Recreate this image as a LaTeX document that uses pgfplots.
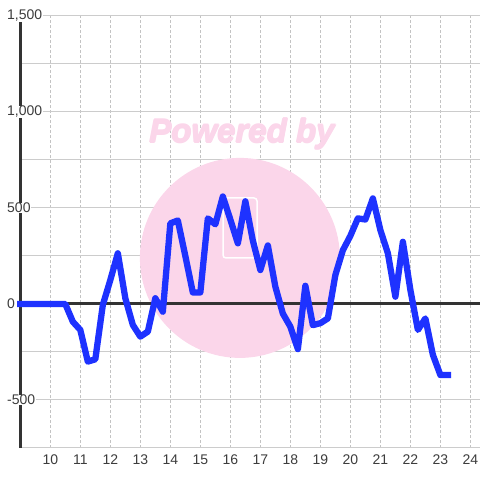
\documentclass[border=0pt]{standalone}
\usepackage{pgfplots}
\pgfplotsset{compat=1.18}
\usepackage{fontspec}
\setmainfont{Liberation Sans}
\definecolor{linecol}{RGB}{30,50,255}
\definecolor{gridc}{RGB}{204,204,204}
\definecolor{vgridc}{RGB}{195,195,195}
\definecolor{axc}{RGB}{51,51,51}
\definecolor{txtc}{RGB}{60,60,60}
\definecolor{wm}{RGB}{251,214,234}
\begin{document}
\begin{tikzpicture}
% watermark (behind the axis)
\fill[wm] (219.6pt,190.1pt) circle[radius=100pt];
\draw[white, line width=1.5pt, rounded corners=3pt] (202.7pt,190pt) rectangle (236.7pt,250pt);
\foreach \dx/\dy in {-0.7/0,0.7/0,0/-0.7,0/0.7,0/0}{
  \node[text=wm, font=\fontsize{33}{33}\selectfont\bfseries\itshape] at (221.7pt+\dx pt,313.9pt+\dy pt) {Powered by};
}
\begin{axis}[
  set layers,
  scale only axis, width=459.7pt, height=432pt,
  at={(0pt,0pt)}, anchor=south west,
  xmin=9, xmax=24.32, ymin=-750, ymax=1500,
  clip=false,
  axis x line*=bottom, axis y line*=left,
  x axis line style={draw=none},
  y axis line style={line width=3pt, color=axc},
  xtick={10,...,24},
  ytick={-500,0,500,1000,1500},
  minor ytick={-750,-250,250,750,1250},
  yticklabels={},
  major tick length=0pt, minor tick length=0pt,
  xmajorgrids, ymajorgrids, yminorgrids,
  x grid style={vgridc, line width=1pt, dash pattern=on 3pt off 2pt},
  y grid style={gridc, line width=1pt},
  tick label style={font=\fontsize{14}{16}\selectfont, text=txtc},
  /pgf/number format/assume math mode=true,
  xticklabel style={yshift=-3pt},
]
\draw[axc, line width=3pt] (axis cs:9,0) -- (axis cs:24.32,0);
\addplot[linecol, line width=6.3pt, line join=round, line cap=rect, mark=none] table {
x y
9.00 0
9.25 0
9.50 0
9.75 0
10.00 0
10.25 0
10.50 0
10.75 -92
11.00 -135
11.25 -300
11.50 -288
11.75 -5
12.00 125
12.25 264
12.50 30
12.75 -109
13.00 -170
13.25 -144
13.50 30
13.75 -40
14.00 420
14.25 435
14.50 250
14.75 60
15.00 60
15.25 446
15.50 415
15.75 560
16.00 440
16.25 316
16.50 535
16.75 330
17.00 177
17.25 305
17.50 90
17.75 -50
18.00 -118
18.25 -235
18.50 95
18.75 -110
19.00 -100
19.25 -75
19.50 151
19.75 280
20.00 355
20.25 446
20.50 440
20.75 550
21.00 385
21.25 264
21.50 38
21.75 324
22.00 73
22.25 -135
22.50 -75
22.75 -265
23.00 -370
23.25 -370
};
\end{axis}
% y tick labels (left aligned, white background over the axis line)
\foreach \yy/\tt in {432/{1,500}, 336/{1,000}, 240/{500}, 144/{0}, 48/{-500}}{
  \node[anchor=west, fill=white, inner sep=0.5pt, font=\fontsize{14}{16}\selectfont, text=txtc] at (-13.8pt,\yy pt) {\tt};
}
\pgfresetboundingbox
\path[use as bounding box] (-20.3pt,-32pt) rectangle (459.7pt,448pt);
\end{tikzpicture}
\end{document}
